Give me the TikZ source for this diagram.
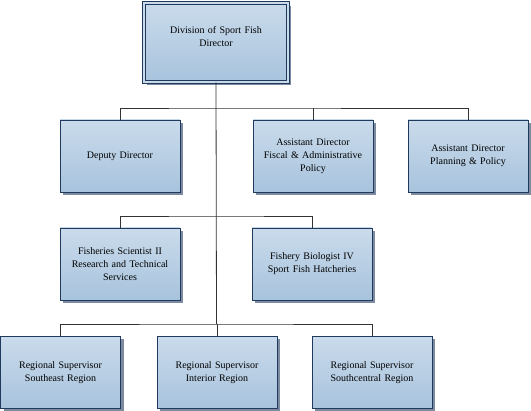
\documentclass[tikz,border=0pt]{standalone}
\usepackage{fontspec}
\setmainfont{Liberation Serif}
\usetikzlibrary{shadows}
\definecolor{boxtop}{HTML}{C9DBEB}
\definecolor{boxbot}{HTML}{A8C3DD}
\definecolor{boxline}{HTML}{1F3A5C}
\definecolor{shadowc}{HTML}{7D8AA0}
\definecolor{linec}{HTML}{333333}
\tikzset{
  orgbox/.style={draw=boxline, line width=0.9pt, top color=boxtop, bottom color=boxbot,
    minimum width=120pt, minimum height=72pt, align=center, inner sep=2pt,
    font=\fontsize{10}{13}\selectfont, text width=114pt,
    drop shadow={shadow xshift=3pt, shadow yshift=-3pt, fill=shadowc, opacity=1}},
  topbox/.style={orgbox, minimum width=144pt, minimum height=79pt, text width=136pt,
    double=boxtop, double distance=1.6pt, line width=0.8pt},
  conn/.style={draw=linec, line width=0.8pt}
}
\begin{document}
\begin{tikzpicture}[x=1pt,y=-1pt]
\useasboundingbox (0,0) rectangle (531,411);
\node[topbox] (dir) at (216,42.5) {Division of Sport Fish\\Director\\\mbox{}};
\node[orgbox] (dep) at (120,156) {Deputy Director};
\node[orgbox] (fis) at (313,156) {Assistant Director\\Fiscal \& Administrative\\Policy};
\node[orgbox] (pla) at (468,156) {Assistant Director\\Planning \& Policy};
\node[orgbox] (sci) at (120,264) {Fisheries Scientist II\\Research and Technical\\Services};
\node[orgbox] (bio) at (312,264) {Fishery Biologist IV\\Sport Fish Hatcheries};
\node[orgbox] (se) at (60.5,372.5) {Regional Supervisor\\Southeast Region};
\node[orgbox] (int) at (217,372.5) {Regional Supervisor\\Interior Region};
\node[orgbox] (sc) at (372,372.5) {Regional Supervisor\\Southcentral Region};
\coordinate (b1) at (216.5,108);
\coordinate (b2) at (216.5,216);
\coordinate (b3) at (216.5,324);
\draw[conn] (dir.south) -- (b3);
\draw[conn] (dep.north) |- (b1) -| (pla.north);
\draw[conn] (fis.north) -- (fis.north |- b1);
\draw[conn] (sci.north) |- (b2) -| (bio.north);
\draw[conn] (se.north) |- (b3) -| (sc.north);
\draw[conn] (int.north) -- (int.north |- b3);
\end{tikzpicture}
\end{document}
